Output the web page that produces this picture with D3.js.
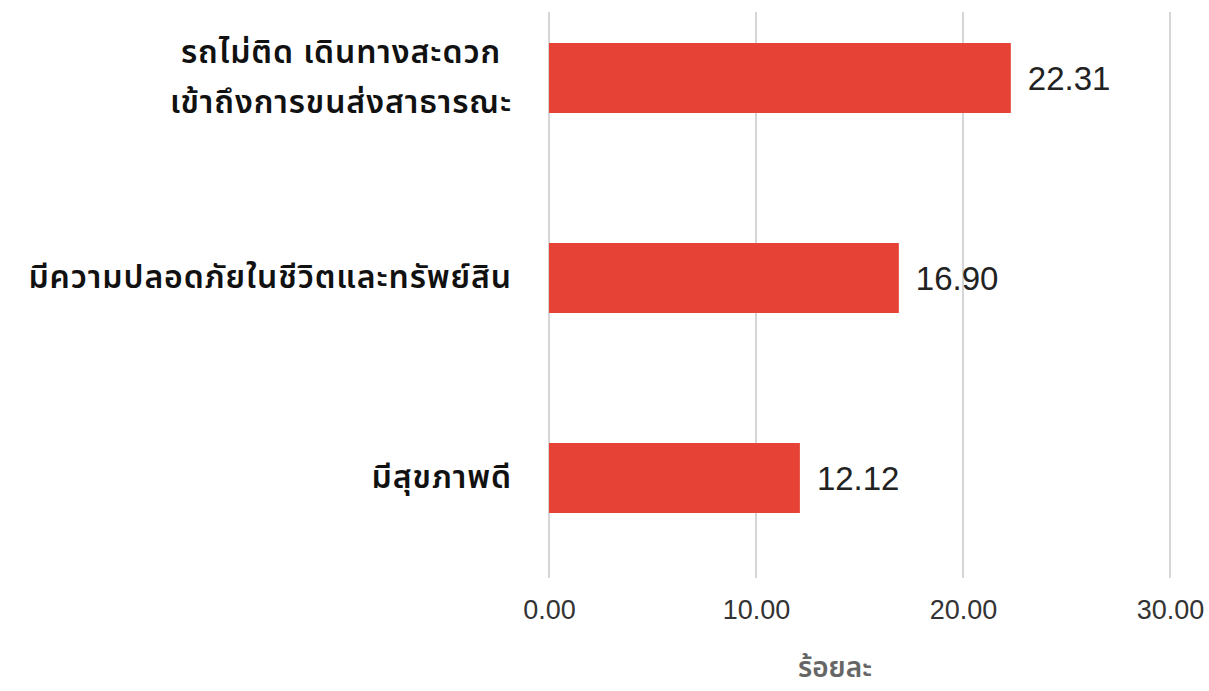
<!DOCTYPE html>
<html><head><meta charset="utf-8">
<script src="https://cdn.jsdelivr.net/npm/d3@7"></script>
<style>
body{margin:0;background:#fff;}
svg{display:block;}
.cat{font-family:"Noto Sans Thai","Noto Sans Thai Looped","Noto Sans","Open Sans",sans-serif;font-weight:600;font-size:32px;letter-spacing:0.9px;fill:#111;}
.val{font-family:"Liberation Sans",Arial,sans-serif;font-size:33px;fill:#222;}
.tick text{font-family:"Liberation Sans",Arial,sans-serif;font-size:27px;fill:#333;}
.title{font-family:"Noto Sans Thai","Noto Sans",sans-serif;font-weight:600;font-size:28px;fill:#666;}
</style></head>
<body>
<svg id="c" width="1209" height="691"></svg>
<script>
const categories = [["รถไม่ติด เดินทางสะดวก","เข้าถึงการขนส่งสาธารณะ"],["มีความปลอดภัยในชีวิตและทรัพย์สิน"],["มีสุขภาพดี"]];
const values = [22.31, 16.90, 12.12];
const tickValues = [0, 10, 20, 30];
const axisTitle = "ร้อยละ";

const svg = d3.select("#c");
const x = d3.scaleLinear().domain([0,30]).range([549,1170]);
const y = d3.scaleBand().domain(d3.range(categories.length)).range([-22,578]).paddingInner(0.65).paddingOuter(0.325);

svg.append("g").selectAll("line").data(tickValues).join("line")
  .attr("x1",d=>x(d)).attr("x2",d=>x(d)).attr("y1",12).attr("y2",578)
  .attr("stroke","#d6d6d6").attr("stroke-width",2);

const ax = svg.append("g").attr("transform","translate(0,578)")
  .call(d3.axisBottom(x).tickValues(tickValues).tickFormat(d3.format(".2f")).tickSize(0).tickPadding(22));
ax.select(".domain").remove();

svg.append("g").selectAll("rect").data(values).join("rect")
  .attr("x",x(0)).attr("y",(d,i)=>y(i)).attr("width",d=>x(d)-x(0)).attr("height",y.bandwidth())
  .attr("fill","#e64236");

svg.append("g").selectAll("text").data(values).join("text").attr("class","val")
  .attr("x",d=>x(d)+17).attr("y",(d,i)=>y(i)+y.bandwidth()/2).attr("dy","0.36em")
  .text(d=>d3.format(".2f")(d));

const right = 512;
const cg = svg.append("g").selectAll("text").data(categories).join("text").attr("class","cat")
  .attr("text-anchor","middle");
cg.each(function(d,i){
  const t=d3.select(this);
  const n=d.length;
  const cy=y(i)+y.bandwidth()/2;
  const spans=d.map((line,k)=>t.append("tspan").attr("y",cy+(k-(n-1)/2)*50).attr("dy","0.3em").text(line));
  const w=d3.max(spans,s=>s.node().getComputedTextLength());
  spans.forEach(s=>s.attr("x",right-w/2));
});

svg.append("text").attr("class","title").attr("x",835).attr("y",677).attr("text-anchor","middle").text(axisTitle);
</script>
</body></html>
